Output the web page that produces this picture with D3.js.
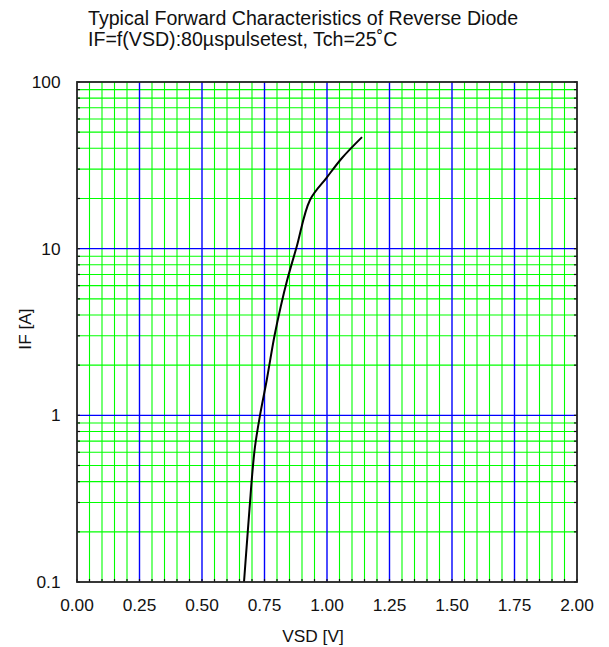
<!DOCTYPE html>
<html><head><meta charset="utf-8">
<script src="https://cdn.jsdelivr.net/npm/d3@7"></script>
<style>body{margin:0;background:#fff;} svg{display:block;}</style>
</head><body>
<svg id="c" width="609" height="647"></svg>
<script>
const titleLines = ["Typical Forward Characteristics of Reverse Diode", "IF=f(VSD):80\u00b5spulsetest, Tch=25\u02daC"];
const xLabel = "VSD [V]";
const yLabel = "IF [A]";
const xTicks = [0, 0.25, 0.5, 0.75, 1.0, 1.25, 1.5, 1.75, 2.0];
const yTicks = [0.1, 1, 10, 100];
const vsd = [0.668, 0.683, 0.692, 0.699, 0.712, 0.732, 0.759, 0.79, 0.815, 0.841, 0.879, 0.932, 0.999, 1.06, 1.14];
const ifA = [0.1, 0.2, 0.3, 0.41, 0.65, 1, 1.63, 3, 4.5, 6.5, 10.3, 19.6, 26.7, 35, 46.7];

const svg = d3.select("#c");
const m = {l: 77, t: 82, w: 500, h: 500};
const x = d3.scaleLinear().domain([0, 2]).range([m.l, m.l + m.w]);
const y = d3.scaleLog().domain([0.1, 100]).range([m.t + m.h, m.t]);
const font = "Liberation Sans, Arial, sans-serif";
const fs = 17.3;

// minor grids
const xMinor = d3.range(0, 41).map(i => i * 0.05).filter(v => Math.abs(v * 4 - Math.round(v * 4)) > 1e-6);
const yMinor = [];
[0.1, 1, 10].forEach(d => { for (let k = 2; k <= 9; k++) yMinor.push(d * k); });
const g = svg.append("g");
g.selectAll("line.vm").data(xMinor).join("line")
  .attr("x1", d => x(d)).attr("x2", d => x(d)).attr("y1", m.t).attr("y2", m.t + m.h)
  .attr("stroke", "#00ff00").attr("stroke-width", 1.1);
g.selectAll("line.hm").data(yMinor).join("line")
  .attr("y1", d => y(d)).attr("y2", d => y(d)).attr("x1", m.l).attr("x2", m.l + m.w)
  .attr("stroke", "#00ff00").attr("stroke-width", 1.1);
// major grids
g.selectAll("line.vM").data(xTicks.slice(1, -1)).join("line")
  .attr("x1", d => x(d)).attr("x2", d => x(d)).attr("y1", m.t).attr("y2", m.t + m.h)
  .attr("stroke", "#0000ff").attr("stroke-width", 1.4);
g.selectAll("line.hM").data(yTicks.slice(1, -1)).join("line")
  .attr("y1", d => y(d)).attr("y2", d => y(d)).attr("x1", m.l).attr("x2", m.l + m.w)
  .attr("stroke", "#0000ff").attr("stroke-width", 1.4);

// curve
const pts = vsd.map((v, i) => [v, ifA[i]]);
svg.append("path").datum(pts)
  .attr("fill", "none").attr("stroke", "#000").attr("stroke-width", 2)
  .attr("d", d3.line().x(d => x(d[0])).y(d => y(d[1])).curve(d3.curveCatmullRom.alpha(0.5)));

// inner ticks
const allY = yTicks.concat(yMinor);
const allX = xTicks.concat(xMinor);
const tk = svg.append("g").attr("stroke", "#111").attr("stroke-width", 1.2);
tk.selectAll("line.tl").data(allY).join("line")
  .attr("x1", m.l).attr("x2", m.l + 3).attr("y1", d => y(d)).attr("y2", d => y(d));
tk.selectAll("line.tr").data(allY).join("line")
  .attr("x1", m.l + m.w - 3).attr("x2", m.l + m.w).attr("y1", d => y(d)).attr("y2", d => y(d));
tk.selectAll("line.tb").data(allX).join("line")
  .attr("y1", m.t + m.h).attr("y2", m.t + m.h - 3).attr("x1", d => x(d)).attr("x2", d => x(d));

// frame
svg.append("rect").attr("x", m.l).attr("y", m.t).attr("width", m.w).attr("height", m.h)
  .attr("fill", "none").attr("stroke", "#222").attr("stroke-width", 1.8);

// tick labels
svg.selectAll("text.xt").data(xTicks).join("text")
  .attr("x", d => x(d)).attr("y", 611).attr("text-anchor", "middle")
  .attr("font-family", font).attr("font-size", fs).attr("fill", "#111")
  .text(d => d3.format(".2f")(d));
svg.selectAll("text.yt").data(yTicks).join("text")
  .attr("x", 60.5).attr("y", d => y(d) + 6).attr("text-anchor", "end")
  .attr("font-family", font).attr("font-size", fs).attr("fill", "#111")
  .text(d => String(d));

// axis labels
svg.append("text").attr("x", 313).attr("y", 641.5).attr("text-anchor", "middle")
  .attr("font-family", font).attr("font-size", fs).attr("fill", "#111").text(xLabel);
svg.append("text").attr("transform", "translate(30.5,329) rotate(-90)").attr("text-anchor", "middle")
  .attr("font-family", font).attr("font-size", fs).attr("fill", "#111").text(yLabel);

// title
svg.selectAll("text.title").data(titleLines).join("text")
  .attr("x", 88).attr("y", (d, i) => 25 + i * 21)
  .attr("font-family", font).attr("font-size", 19.6).attr("fill", "#111")
  .text(d => d);
</script>
</body></html>
